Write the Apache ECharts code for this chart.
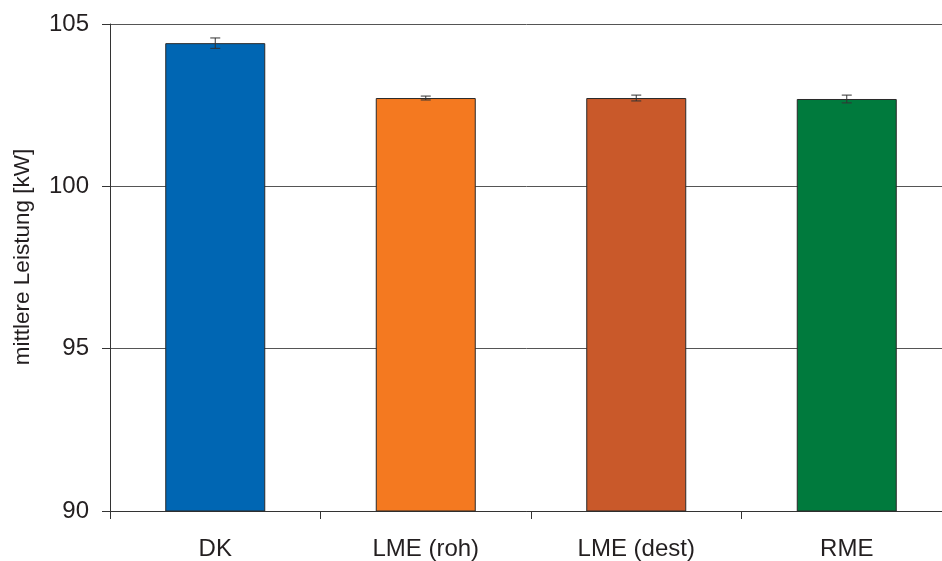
<!DOCTYPE html>
<html><head><meta charset="utf-8">
<script src="https://cdn.jsdelivr.net/npm/echarts@6/dist/echarts.min.js"></script>
<style>html,body{margin:0;padding:0;background:#fff}#c{width:942px;height:561px}</style>
</head><body><div id="c"></div>
<script>
const categories = ['DK', 'LME (roh)', 'LME (dest)', 'RME'];
const values = [104.41, 102.72, 102.72, 102.69];
const errors = [0.16, 0.06, 0.09, 0.12];
const colors = ['#0066b3', '#f47920', '#c9592a', '#007a3d'];
const yTicks = [90, 95, 100, 105];

const chart = echarts.init(document.getElementById('c'));
const font = 'Liberation Sans, Arial, Helvetica, sans-serif';
chart.setOption({
  animation: false,
  grid: {left: 110, top: 24, bottom: 50, width: 842, containLabel: false, outerBoundsMode: 'none'},
  xAxis: {
    type: 'category', data: categories,
    axisLine: {lineStyle: {color: '#333', width: 1}},
    axisTick: {show: true, length: 8, lineStyle: {color: '#333'}},
    axisLabel: {color: '#231f20', fontSize: 24, fontFamily: font, margin: 26}
  },
  yAxis: {
    type: 'value', min: yTicks[0], max: yTicks[yTicks.length-1], interval: 5,
    name: 'mittlere Leistung [kW]', nameLocation: 'middle', nameGap: 76,
    nameTextStyle: {color: '#231f20', fontSize: 22.5, fontFamily: font, padding: [0, 0, 0, 21]},
    axisLine: {show: true, lineStyle: {color: '#333', width: 1}},
    axisTick: {show: true, length: 8, lineStyle: {color: '#333'}},
    axisLabel: {color: '#231f20', fontSize: 24, fontFamily: font, margin: 21},
    splitLine: {lineStyle: {color: '#555', width: 1}}
  },
  series: [{
    type: 'bar', barWidth: 100,
    data: values.map((v, i) => ({value: v, itemStyle: {color: colors[i], borderColor: '#2a2a2a', borderWidth: 1}})),
    z: 2
  }, {
    type: 'custom', z: 3,
    data: values.map((v, i) => [i, v - errors[i], v + errors[i]]),
    renderItem: function(params, api) {
      const lo = api.coord([api.value(0), api.value(1)]);
      const hi = api.coord([api.value(0), api.value(2)]);
      const w = 5;
      const st = {stroke: '#333', lineWidth: 1};
      return {type: 'group', children: [
        {type: 'line', shape: {x1: hi[0], y1: hi[1], x2: lo[0], y2: lo[1]}, style: st},
        {type: 'line', shape: {x1: hi[0]-w, y1: hi[1], x2: hi[0]+w, y2: hi[1]}, style: st},
        {type: 'line', shape: {x1: lo[0]-w, y1: lo[1], x2: lo[0]+w, y2: lo[1]}, style: st}
      ]};
    }
  }]
});
</script></body></html>
